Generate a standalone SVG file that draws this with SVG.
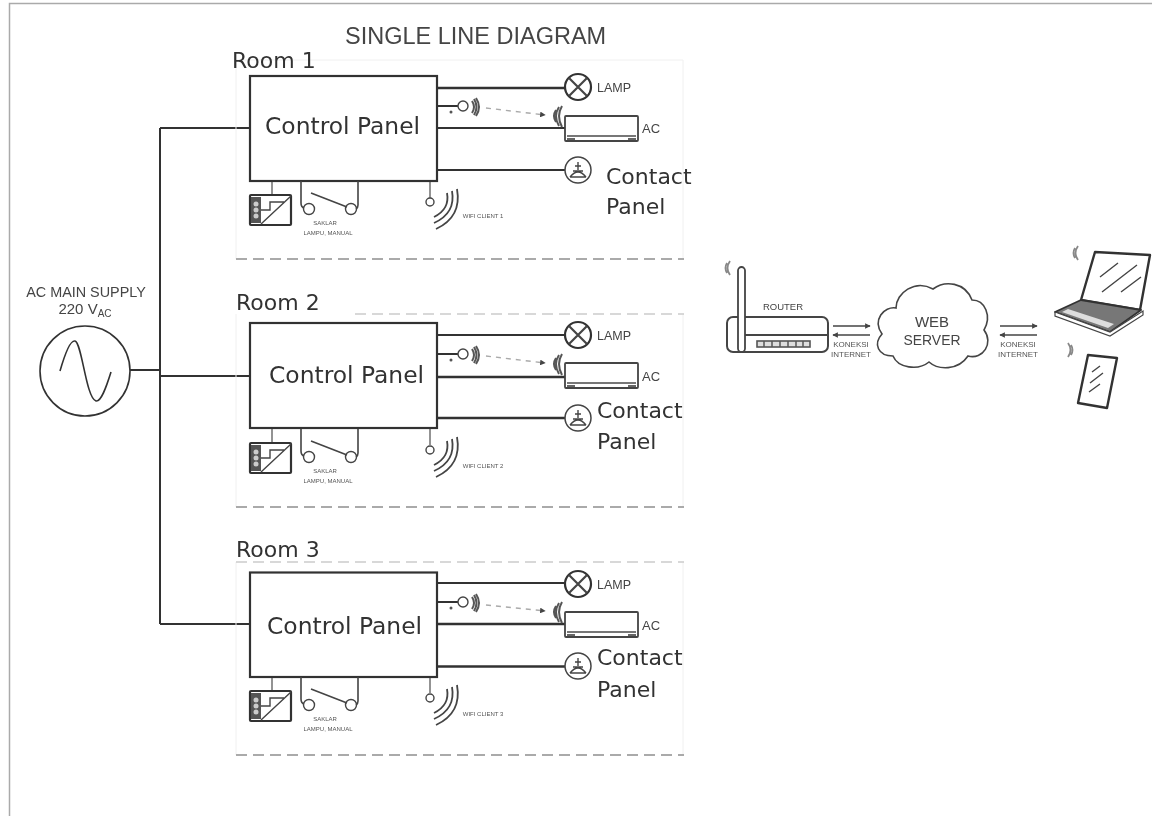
<svg xmlns="http://www.w3.org/2000/svg" width="1152" height="816" viewBox="0 0 1152 816">
<style>
.ln{fill:none;stroke:#333;stroke-width:2}
.hv{fill:none;stroke:#333;stroke-width:2.600}
.thin{fill:none;stroke:#444;stroke-width:1.400}
.box{fill:#fff;stroke:#333;stroke-width:2.200}
.dash{fill:none;stroke:#aaa;stroke-width:2;stroke-dasharray:11 6}
.top{fill:none;stroke:#ccc;stroke-width:1.600;stroke-dasharray:11 6}
.edge{fill:none;stroke:#f0f0f0;stroke-width:1}
.stem{fill:none;stroke:#666;stroke-width:1.400}
.ir{fill:none;stroke:#aaa;stroke-width:1.400;stroke-dasharray:5 5}
.big{font-family:"DejaVu Sans",sans-serif;font-size:22px;fill:#333}
.cp{font-family:"DejaVu Sans",sans-serif;font-size:23.400px;fill:#333}
.s{font-family:"Liberation Sans",Arial,sans-serif;fill:#444}
.lam{font-size:12.500px}
.acl{font-size:13px}
.tiny{font-size:6px;fill:#555;text-anchor:middle}
.mid{text-anchor:middle}
.k{font-size:8px;fill:#555;text-anchor:middle}
</style>
<defs>
<filter id="soft" x="0" y="0" width="100%" height="100%"><feGaussianBlur stdDeviation="0.450"/></filter>
<marker id="ah" markerWidth="4" markerHeight="4" refX="3.500" refY="2" orient="auto"><path d="M0 0L4 2L0 4z" fill="#444"/></marker>
<g id="lamp"><circle cx="0" cy="0" r="13" fill="#fff" stroke="#333" stroke-width="2.200"/><path class="thin" style="stroke-width:2.200" d="M-9-9L9 9M9-9L-9 9"/></g>
<g id="outlet"><circle cx="0" cy="0" r="13" fill="#fff" stroke="#444" stroke-width="1.500"/><path class="thin" d="M0-8V0M-3-4H3M-5 1H5M-8 7Q0-3 8 7M-8 7H8"/></g>
<g id="ac"><rect x="0" y="0" width="73" height="25" rx="1" fill="#fff" stroke="#444" stroke-width="1.800"/><path d="M2 20H71" stroke="#777" stroke-width="2.200"/><path d="M2 23H10M63 23H71" stroke="#666" stroke-width="2"/></g>
<g id="rx"><path fill="none" stroke="#555" stroke-width="2" d="M-2-6Q-6 0-2 6M1-9Q-5 0 1 10M4-10Q-2 0 4 11"/></g>
<g id="tx"><path fill="none" stroke="#555" stroke-width="2" d="M2-6Q6 0 2 6M4-8Q9 0 4 8M6-9Q12 0 6 9"/></g>
<g id="blip"><path fill="none" stroke="#888" stroke-width="1.800" d="M-2-5Q-5 0-2 5M1-7Q-4 0 1 7"/></g>
<g id="psu"><rect x="0" y="0" width="41" height="30" rx="1" fill="#fff" stroke="#333" stroke-width="2.200"/><rect x="1" y="2" width="10" height="26" fill="#555"/><circle cx="6" cy="9" r="2.500" fill="#ccc"/><circle cx="6" cy="15" r="2.500" fill="#ccc"/><circle cx="6" cy="21" r="2.500" fill="#ccc"/><path class="thin" d="M11 29L41 1M11 15H20V7H34"/></g>
<g id="wifi"><path class="thin" d="M4 22Q20 14 17-2M4 28Q26 18 22-4M6 34Q32 22 27-6" style="stroke-width:1.800"/></g>
<g id="sw"><circle class="thin" cx="8" cy="25" r="5.500"/><circle class="thin" cx="50" cy="25" r="5.500"/><path class="thin" d="M0-3V19Q0 23 3 24M57-3V21Q57 24 55 25M10 9L46 23" style="stroke-width:1.600"/></g>
</defs>

<g filter="url(#soft)">
<rect x="0" y="0" width="1152" height="816" fill="#fff"/>
<path d="M9.500 816V3.500H1152" fill="none" stroke="#aaa" stroke-width="1.500"/>
<text id="title" class="s" x="345" y="44" font-size="23.500" fill="#333">SINGLE LINE DIAGRAM</text>

<g id="connectors">
<path class="ln" d="M130 370H160M160 128V624M160 128H250M160 376H250M160 624H250"/>
<g id="room1-wires">
<path class="hv" d="M437 88H566"/><path class="ln" d="M437 106H458M437 128H566M437 170H566"/>
<path class="stem" d="M272 181V195M430 181V198"/>
<path class="ir" d="M486 108L545 115" marker-end="url(#ah)"/>
</g>
<g id="room2-wires">
<path class="ln" d="M437 335H566M437 354H458"/><path class="hv" d="M437 377H566M437 418H566"/>
<path class="stem" d="M272 428V443M430 428V445"/>
<path class="ir" d="M486 356L545 363" marker-end="url(#ah)"/>
</g>
<g id="room3-wires">
<path class="ln" d="M437 583H566M437 602H458"/><path class="hv" d="M437 624H566M437 666.500H566"/>
<path class="stem" d="M272 677V691M430 677V693"/>
<path class="ir" d="M486 605L545 611" marker-end="url(#ah)"/>
</g>
<g id="net-arrows">
<path class="thin" d="M833 326H870" marker-end="url(#ah)"/><path class="thin" d="M870 335H833" marker-end="url(#ah)"/>
<path class="thin" d="M1000 326H1037" marker-end="url(#ah)"/><path class="thin" d="M1037 335H1000" marker-end="url(#ah)"/>
</g>
</g>

<g id="source">
<text class="s mid" x="86" y="297" font-size="14.400">AC MAIN SUPPLY</text>
<text class="s mid" x="85" y="314" font-size="15">220 V<tspan font-size="10" dy="3">AC</tspan></text>
<circle cx="85" cy="371" r="45" fill="#fff" stroke="#333" stroke-width="1.600"/>
<path d="M60 371C66 350 71 340 75 341C82 343 86 398 96 401C101 402 106 388 111 372" fill="none" stroke="#333" stroke-width="1.600"/>
</g>

<g id="room1">
<path class="edge" d="M236 60H683V259M236 60V259"/>
<text class="big" x="232" y="68">Room 1</text>
<rect class="box" x="250" y="76" width="187" height="105"/>
<text class="cp" x="265" y="134">Control Panel</text>
<use href="#lamp" x="578" y="87"/><text class="s lam" x="597" y="92">LAMP</text>
<circle class="thin" cx="463" cy="106" r="5"/><circle cx="451" cy="112" r="1.500" fill="#555"/><use href="#tx" x="470" y="107"/><use href="#rx" x="558" y="116"/>
<use href="#ac" x="565" y="116"/><text class="s acl" x="642" y="133">AC</text>
<use href="#outlet" x="578" y="170"/>
<text class="big" x="606" y="184">Contact</text><text class="big" x="606" y="214">Panel</text>
<use href="#psu" x="250" y="195"/>
<use href="#sw" x="301" y="184"/><text class="s tiny" x="325" y="225">SAKLAR</text><text class="s tiny" x="328" y="235">LAMPU, MANUAL</text>
<circle class="thin" cx="430" cy="202" r="4"/><use href="#wifi" x="430" y="195"/>
<text class="s tiny" x="483" y="218">WIFI CLIENT 1</text>
<path class="dash" d="M236 259H684"/>
</g>

<g id="room2">
<path class="edge" d="M683 314V507M236 314V507"/>
<path class="top" d="M355 314H684"/>
<text class="big" x="236" y="310">Room 2</text>
<rect class="box" x="250" y="323" width="187" height="105"/>
<text class="cp" x="269" y="383">Control Panel</text>
<use href="#lamp" x="578" y="335"/><text class="s lam" x="597" y="340">LAMP</text>
<circle class="thin" cx="463" cy="354" r="5"/><circle cx="451" cy="360" r="1.500" fill="#555"/><use href="#tx" x="470" y="355"/><use href="#rx" x="558" y="364"/>
<use href="#ac" x="565" y="363"/><text class="s acl" x="642" y="381">AC</text>
<use href="#outlet" x="578" y="418"/>
<text class="big" x="597" y="418">Contact</text><text class="big" x="597" y="449">Panel</text>
<use href="#psu" x="250" y="443"/>
<use href="#sw" x="301" y="432"/><text class="s tiny" x="325" y="473">SAKLAR</text><text class="s tiny" x="328" y="483">LAMPU, MANUAL</text>
<circle class="thin" cx="430" cy="450" r="4"/><use href="#wifi" x="430" y="443"/>
<text class="s tiny" x="483" y="468">WIFI CLIENT 2</text>
<path class="dash" d="M236 507H684"/>
</g>

<g id="room3">
<path class="edge" d="M683 562V755M236 562V755"/>
<path class="top" d="M236 562H684"/>
<text class="big" x="236" y="557">Room 3</text>
<rect class="box" x="250" y="572.500" width="187" height="104.500"/>
<text class="cp" x="267" y="634">Control Panel</text>
<use href="#lamp" x="578" y="584"/><text class="s lam" x="597" y="589">LAMP</text>
<circle class="thin" cx="463" cy="602" r="5"/><circle cx="451" cy="608" r="1.500" fill="#555"/><use href="#tx" x="470" y="603"/><use href="#rx" x="558" y="612"/>
<use href="#ac" x="565" y="612"/><text class="s acl" x="642" y="630">AC</text>
<use href="#outlet" x="578" y="666"/>
<text class="big" x="597" y="665">Contact</text><text class="big" x="597" y="697">Panel</text>
<use href="#psu" x="250" y="691"/>
<use href="#sw" x="301" y="680"/><text class="s tiny" x="325" y="721">SAKLAR</text><text class="s tiny" x="328" y="731">LAMPU, MANUAL</text>
<circle class="thin" cx="430" cy="698" r="4"/><use href="#wifi" x="430" y="691"/>
<text class="s tiny" x="483" y="716">WIFI CLIENT 3</text>
<path class="dash" d="M236 755H684"/>
</g>

<g id="router">
<rect class="thin" x="727" y="317" width="101" height="35" rx="6" style="stroke-width:2"/>
<path class="thin" d="M745 335H828" style="stroke-width:2"/>
<rect x="738" y="267" width="7" height="85" rx="3.500" fill="#fff" stroke="#444" stroke-width="1.800"/>
<rect x="757" y="341" width="53" height="6" fill="#ddd" stroke="#555" stroke-width="1.600"/>
<path d="M764 341V347M772 341V347M780 341V347M788 341V347M796 341V347M803 341V347" stroke="#555" stroke-width="1.500"/>
<use href="#blip" transform="translate(729 268)"/>
<text class="s mid" x="783" y="310" font-size="9.500" fill="#555">ROUTER</text>
</g>
<g id="link1"><text class="s k" x="851" y="347">KONEKSI</text><text class="s k" x="851" y="357">INTERNET</text></g>
<g id="cloud">
<path d="M882 334C872 320 884 306 896 308C896 293 915 279 933 289C945 280 965 282 972 300C985 300 992 316 984 330C994 343 983 360 968 356C958 371 938 370 929 362C918 371 898 368 893 356C878 356 873 344 882 334Z" fill="#fff" stroke="#444" stroke-width="1.600"/>
<text class="s mid" x="932" y="327" font-size="15" fill="#444">WEB</text>
<text class="s mid" x="932" y="345" font-size="15" fill="#444" textLength="57" lengthAdjust="spacingAndGlyphs">SERVER</text>
</g>
<g id="link2"><text class="s k" x="1018" y="347">KONEKSI</text><text class="s k" x="1018" y="357">INTERNET</text></g>
<g id="laptop">
<path d="M1095 252L1150 255L1140 310L1081 300Z" fill="#fff" stroke="#333" stroke-width="2.400" stroke-linejoin="round"/>
<path class="thin" d="M1100 277L1118 263M1102 292L1137 265M1121 292L1141 277"/>
<path d="M1081 300L1141 310L1110 332L1055 312Z" fill="#777" stroke="#333" stroke-width="1.800" stroke-linejoin="round"/>
<path d="M1062 312L1108 328L1114 324L1068 309Z" fill="#ddd"/>
<path d="M1055 312L1110 332L1143 311V315L1110 336L1055 316Z" fill="#fff" stroke="#444" stroke-width="1.200"/>
<use href="#blip" transform="translate(1077 253)"/>
</g>
<g id="phone">
<path d="M1088 355L1117 358L1107 408L1078 403Z" fill="#fff" stroke="#333" stroke-width="2.400" stroke-linejoin="round"/>
<path class="thin" d="M1092 372L1100 366M1090 383L1103 373M1089 392L1100 384"/>
<use href="#blip" transform="translate(1069 350) rotate(180)"/>
</g>
</g>
</svg>
